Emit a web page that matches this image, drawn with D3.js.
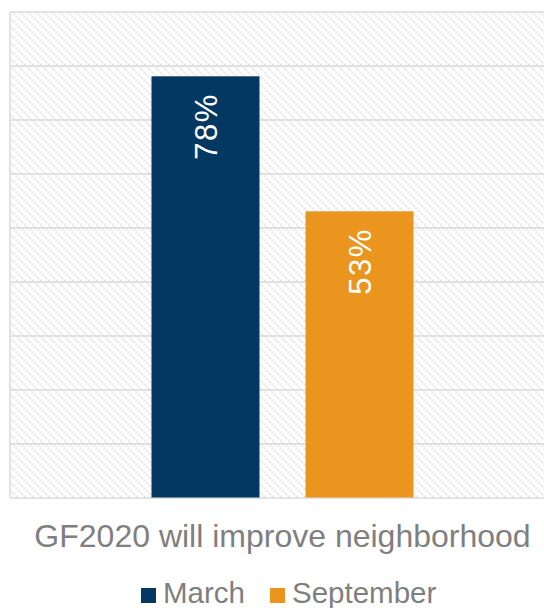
<!DOCTYPE html>
<html>
<head>
<meta charset="utf-8">
<script src="https://cdn.jsdelivr.net/npm/d3@7"></script>
<style>
  html, body { margin: 0; padding: 0; background: #fff; }
  svg { display: block; font-family: "Liberation Sans", Arial, sans-serif; }
</style>
</head>
<body>
<svg id="chart" width="544" height="608"></svg>
<script>
// Survey result: share who think GF2020 will improve the neighborhood
const categories = ["GF2020 will improve neighborhood"];
const seriesNames = ["March", "September"];
const seriesValues = [78, 53];
const seriesColors = ["#033863", "#e9951e"];
const yTicks = [0, 10, 20, 30, 40, 50, 60, 70, 80, 90];

const svg = d3.select("#chart");
const plot = { left: 10, right: 555, top: 11.5, bottom: 497.5 };

// Light diagonal hatch for the plot background
const defs = svg.append("defs");
const pat = defs.append("pattern")
  .attr("id", "hatch")
  .attr("patternUnits", "userSpaceOnUse")
  .attr("width", 8).attr("height", 8);
pat.append("rect").attr("width", 8).attr("height", 8).attr("fill", "#fff");
pat.append("path")
  .attr("d", "M-2,-2 L10,10 M-2,6 L2,10 M6,-2 L10,2")
  .attr("stroke", "#dcdcdc")
  .attr("stroke-width", 1.7)
  .attr("stroke-dasharray", "1.4,1.4");

const y = d3.scaleLinear().domain([0, 90]).range([plot.bottom, plot.top]);

const x0 = d3.scaleBand()
  .domain(categories)
  .range([plot.left, plot.right])
  .paddingInner(0)
  .paddingOuter(0.54);

const x1 = d3.scaleBand()
  .domain(seriesNames)
  .range([0, x0.bandwidth()])
  .paddingInner(0.2987)
  .paddingOuter(0);

// Plot area background
svg.append("rect")
  .attr("x", plot.left).attr("y", plot.top)
  .attr("width", plot.right - plot.left).attr("height", plot.bottom - plot.top)
  .attr("fill", "url(#hatch)");

// Horizontal gridlines
svg.append("g")
  .attr("transform", `translate(${plot.left},0)`)
  .call(d3.axisLeft(y).tickValues(yTicks).tickSize(-(plot.right - plot.left)).tickFormat(""))
  .call(g => g.select(".domain").remove())
  .call(g => g.selectAll(".tick line").attr("stroke", "#d9d9d9").attr("stroke-width", 1.6));

// Left border of plot area
svg.append("line")
  .attr("x1", plot.left).attr("x2", plot.left)
  .attr("y1", plot.top).attr("y2", plot.bottom)
  .attr("stroke", "#dcdcdc").attr("stroke-width", 1.6);

// Bars
const bars = categories.map((c, ci) => seriesNames.map((s, si) => ({
  cat: c, name: s, value: seriesValues[si], color: seriesColors[si]
}))).flat();

const barG = svg.append("g");
barG.selectAll("rect")
  .data(bars)
  .join("rect")
  .attr("x", d => x0(d.cat) + x1(d.name))
  .attr("y", d => y(d.value))
  .attr("width", x1.bandwidth())
  .attr("height", d => y(0) - y(d.value))
  .attr("fill", d => d.color);

// Value labels, rotated, inside the top of each bar
barG.selectAll("text")
  .data(bars)
  .join("text")
  .attr("transform", d => {
    const cx = x0(d.cat) + x1(d.name) + x1.bandwidth() / 2 + 11.5;
    const ty = y(d.value) + 17;
    return `translate(${cx},${ty}) rotate(-90)`;
  })
  .attr("text-anchor", "end")
  .attr("fill", "#fff")
  .attr("font-size", 31)
  .attr("letter-spacing", 1.5)
  .text(d => d.value + "%");

// Category axis label
svg.append("g")
  .selectAll("text")
  .data(categories)
  .join("text")
  .attr("x", d => x0(d) + x0.bandwidth() / 2)
  .attr("y", 547)
  .attr("text-anchor", "middle")
  .attr("fill", "#7f7f7f")
  .attr("font-size", 32)
  .text(d => d);

// Legend
const legendItems = [
  { name: seriesNames[0], color: seriesColors[0], x: 141 },
  { name: seriesNames[1], color: seriesColors[1], x: 270 }
];
const lg = svg.append("g").selectAll("g").data(legendItems).join("g")
  .attr("transform", d => `translate(${d.x},588)`);
lg.append("rect").attr("width", 15).attr("height", 15).attr("fill", d => d.color);
lg.append("text")
  .attr("x", 22).attr("y", 15)
  .attr("fill", "#7f7f7f")
  .attr("font-size", 29.5)
  .text(d => d.name);
</script>
</body>
</html>
